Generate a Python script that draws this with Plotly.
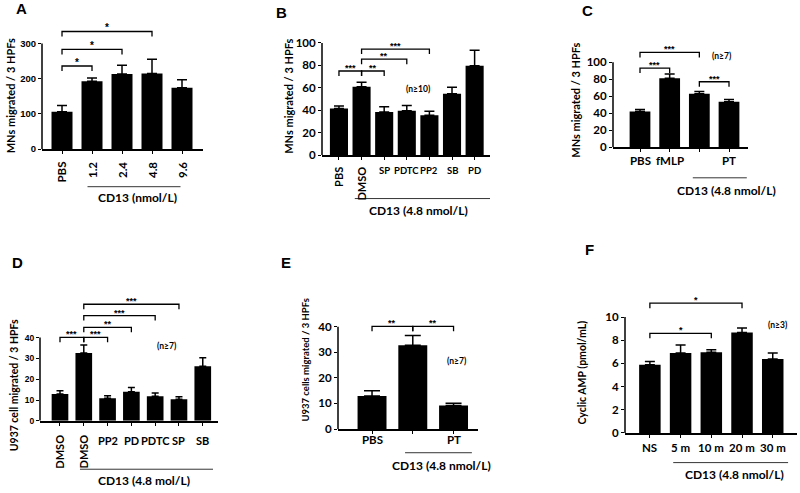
import plotly.graph_objects as go

W, H = 800, 493

# ---------------- data ----------------
a_cats = ["PBS", "1.2", "2.4", "4.8", "9.6"]
a_vals = [106, 193, 213, 215, 174]
a_sem = [18, 9, 25, 40, 23]
a_sig = [(0, 1, 236, "*"), (0, 2, 283, "*"), (0, 3, 334, "*")]

b_cats = ["PBS", "DMSO", "SP", "PDTC", "PP2", "SB", "PD"]
b_vals = [41.5, 61, 38.5, 39.6, 35.5, 54.6, 79.6]
b_sem = [2.3, 4, 4.5, 4.7, 3.5, 5.9, 13.8]
b_sig = [(0, 1, 75, "***"), (1, 2, 75, "**"), (1, 3, 85.5, "**"), (1, 4, 94.5, "***")]

c_cats = ["PBS", "fMLP", "", "PT"]
c_vals = [42, 81, 63, 53.5]
c_sem = [2.5, 5, 2.5, 2.5]
c_sig = [(0, 2, 111.5, "***"), (0, 1, 93, "***"), (2, 3, 77, "***")]

d_cats = ["DMSO", "DMSO", "PP2", "PD", "PDTC", "SP", "SB"]
d_vals = [12.9, 32.6, 10.8, 14, 11.8, 10.3, 26.2]
d_sem = [1.5, 3.8, 1.2, 2, 1.6, 1.2, 4.1]
d_sig = [(0, 1, 40.1, "***"), (1, 2, 40.1, "***"), (1, 3, 44.9, "**"),
         (1, 4, 50.5, "***"), (1, 5, 56, "***")]

e_cats = ["PBS", "", "PT"]
e_vals = [12.9, 32.7, 9.2]
e_sem = [2.1, 3.9, 0.9]
e_sig = [(0, 1, 40.1, "**"), (1, 2, 40.1, "**")]

f_cats = ["NS", "5 m", "10 m", "20 m", "30 m"]
f_vals = [5.88, 6.9, 6.96, 8.66, 6.39]
f_sem = [0.28, 0.69, 0.23, 0.4, 0.51]
f_sig = [(0, 2, 8.6, "*"), (0, 3, 11.2, "*")]

MAIN = "Lato"


def fnt(size, family=MAIN):
    return dict(family=family, size=size, color="black", weight="bold")


SMALL_A = fnt(9.5, "Liberation Sans")
SMALL_D = fnt(8.5, "Liberation Sans")
TICK = fnt(11.5)

panels = [
    dict(letter="A", cats=a_cats, vals=a_vals, sem=a_sem, sig=a_sig,
         xpx=(42, 203), xr=(-0.667, 4.7), y0=151, ytk=44, ymax=300, dtick=100, ext=20,
         tickfont=SMALL_A, bw=0.7, cap=5, rot=[0, 1, 2, 3, 4], rot_top=162, hz_y=None,
         labsize=11.5, under=(0.85, 3.95, 189), group=("CD13 (nmol/L)", 2.5, 200),
         ytitle=("MNs migrated / 3 HPFs", 10.5, 97, 11), letter_pos=(21, 9),
         n=None, starsize=10),
    dict(letter="B", cats=b_cats, vals=b_vals, sem=b_sem, sig=b_sig,
         xpx=(322, 490), xr=(-0.75, 6.68), y0=157, ytk=43.5, ymax=100, dtick=20, ext=30,
         tickfont=TICK, bw=0.8, cap=5, rot=[0, 1], rot_top=167, hz_y=173,
         labsize=9.5, under=(0.7, 6.68, 201), group=("CD13 (4.8 nmol/L)", 3.5, 213),
         ytitle=("MNs migrated / 3 HPFs", 289, 98, 11), letter_pos=(281, 12.5),
         n=("(n≥10)", 3.5, 59), starsize=9),
    dict(letter="C", cats=c_cats, vals=c_vals, sem=c_sem, sig=c_sig,
         xpx=(613, 748), xr=(-0.91, 3.64), y0=149, ytk=63, ymax=100, dtick=20, ext=35,
         tickfont=TICK, bw=0.7, cap=5, rot=[], rot_top=None, hz_y=162,
         labsize=11.5, under=(1.78, 3.6, 180), group=("CD13 (4.8 nmol/L)", 2.9, 193),
         ytitle=("MNs migrated / 3 HPFs", 576, 102, 11), letter_pos=(587, 11),
         n=("(n≥7)", 2.76, 107), starsize=9),
    dict(letter="D", cats=d_cats, vals=d_vals, sem=d_sem, sig=d_sig,
         xpx=(40, 218), xr=(-0.84, 6.64), y0=426, ytk=341.7, ymax=40, dtick=10, ext=290,
         tickfont=SMALL_D, bw=0.7, cap=3.5, rot=[0, 1], rot_top=438, hz_y=446,
         labsize=11, under=(0.84, 6.43, 475), group=("CD13 (4.8 mol/L)", 3.53, 486),
         ytitle=("U937 cell migrated / 3 HPFs", 14, 390, 10.5), letter_pos=(17, 266),
         n=("(n≥7)", 4.5, 36), starsize=9),
    dict(letter="E", cats=e_cats, vals=e_vals, sem=e_sem, sig=e_sig,
         xpx=(338, 478), xr=(-0.835, 2.6), y0=434.3, ytk=330.7, ymax=40, dtick=10, ext=310,
         tickfont=TICK, bw=0.71, cap=8, rot=[], rot_top=None, hz_y=445,
         labsize=11.5, under=(0.81, 2.45, 458.3), group=("CD13 (4.8 nmol/L)", 1.71, 471.7),
         ytitle=("U937 cells migrated / 3 HPFs", 306, 365, 9.5), letter_pos=(286, 265.5),
         n=("(n≥7)", 2.08, 26.5), starsize=9),
    dict(letter="F", cats=f_cats, vals=f_vals, sem=f_sem, sig=f_sig,
         xpx=(625, 797), xr=(-0.81, 4.79), y0=438.3, ytk=321, ymax=10, dtick=2, ext=295,
         tickfont=TICK, bw=0.7, cap=5, rot=[], rot_top=None, hz_y=453,
         labsize=11.5, under=(0.76, 4.5, 468.3), group=("CD13 (4.8 nmol/L)", 2.74, 480),
         ytitle=("Cyclic AMP (pmol/mL)", 582, 377, 10.5), letter_pos=(589.5, 252.5),
         n=("(n≥3)", 4.16, 9.3), starsize=9),
]

GROUP_SIZE = 12


def py(p):
    return 1 - p / H


def px(p):
    return p / W


fig = go.Figure()
annotations = []
shapes = []
layout_axes = {}

for k, p in enumerate(panels, start=1):
    xid = "x" if k == 1 else f"x{k}"
    yid = "y" if k == 1 else f"y{k}"
    xkey = "xaxis" if k == 1 else f"xaxis{k}"
    ykey = "yaxis" if k == 1 else f"yaxis{k}"
    n = len(p["cats"])
    idx = list(range(n))
    ppu = (p["y0"] - p["ytk"]) / p["ymax"]
    ytop = (p["y0"] - p["ext"]) / ppu

    fig.add_trace(go.Bar(
        x=idx, y=p["vals"], width=p["bw"], marker=dict(color="black", line=dict(width=0)),
        error_y=dict(type="data", array=p["sem"], arrayminus=[0] * n, symmetric=False,
                     color="black", thickness=1.5, width=p["cap"]),
        xaxis=xid, yaxis=yid, showlegend=False, hoverinfo="skip"))

    layout_axes[xkey] = dict(domain=[px(p["xpx"][0]), px(p["xpx"][1])], range=list(p["xr"]),
                             anchor=yid, showline=True, linecolor="black", linewidth=1.5,
                             ticks="outside", ticklen=3, tickwidth=1, tickcolor="black",
                             tickvals=idx, showticklabels=False, showgrid=False, zeroline=False,
                             fixedrange=True)
    layout_axes[ykey] = dict(domain=[py(p["y0"]), py(p["ext"])], range=[0, ytop], anchor=xid,
                             showline=False, ticks="outside", ticklen=3, tickwidth=1.2,
                             tickcolor="black",
                             tickvals=list(range(0, p["ymax"] + 1, p["dtick"])),
                             tickfont=p["tickfont"], showgrid=False, zeroline=False,
                             fixedrange=True)
    # y-axis line, only up to the top tick
    shapes.append(dict(type="line", xref=f"{xid} domain", yref=yid, x0=0, x1=0,
                       y0=0, y1=p["ymax"], line=dict(color="black", width=1.5)))

    # significance brackets
    for (i, j, yb, s) in p["sig"]:
        d = 5 / ppu
        shapes.append(dict(type="path", xref=xid, yref=yid,
                           path=f"M {i},{yb - d} L {i},{yb} L {j},{yb} L {j},{yb - d}",
                           line=dict(color="black", width=1.3)))
        annotations.append(dict(x=(i + j) / 2, y=yb, xref=xid, yref=yid, text=s,
                                showarrow=False, yanchor="bottom", yshift=-4,
                                font=fnt(p["starsize"], "Liberation Sans")))

    # category labels
    for i, c in enumerate(p["cats"]):
        if not c:
            continue
        if i in p["rot"]:
            annotations.append(dict(x=i, y=py(p["rot_top"]), xref=xid, yref="paper", text=c,
                                    textangle=-90, showarrow=False, yanchor="top",
                                    xanchor="center", font=fnt(11 if k != 1 else p["labsize"])))
        else:
            annotations.append(dict(x=i, y=py(p["hz_y"]), xref=xid, yref="paper", text=c,
                                    showarrow=False, yanchor="middle", xanchor="center",
                                    font=fnt(p["labsize"])))

    # group underline and label
    u0, u1, uy = p["under"]
    shapes.append(dict(type="line", xref=xid, yref="paper", x0=u0, x1=u1, y0=py(uy), y1=py(uy),
                       line=dict(color="black", width=0.8)))
    gt, gx, gy = p["group"]
    annotations.append(dict(x=gx, y=py(gy), xref=xid, yref="paper", text=gt, showarrow=False,
                            yanchor="middle", xanchor="center", font=fnt(GROUP_SIZE)))

    # y title
    tt, tx, ty, ts = p["ytitle"]
    annotations.append(dict(x=px(tx), y=py(ty), xref="paper", yref="paper", text=tt,
                            textangle=-90, showarrow=False, xanchor="center", yanchor="middle",
                            font=fnt(ts)))

    # panel letter
    lx, ly = p["letter_pos"]
    annotations.append(dict(x=px(lx), y=py(ly), xref="paper", yref="paper", text=p["letter"],
                            showarrow=False, xanchor="center", yanchor="middle",
                            font=fnt(15, "Liberation Sans")))

    # n annotation
    if p["n"]:
        nt, nx, ny = p["n"]
        annotations.append(dict(x=nx, y=ny, xref=xid, yref=yid, text=nt, showarrow=False,
                                xanchor="center", yanchor="middle", font=fnt(8.5)))

fig.update_layout(width=W, height=H, margin=dict(l=0, r=0, t=0, b=0),
                  paper_bgcolor="white", plot_bgcolor="white", showlegend=False,
                  font=dict(family=MAIN, color="black", weight="bold"),
                  annotations=annotations, shapes=shapes, **layout_axes)

fig.write_html("out.html", config={"displayModeBar": False},
               post_script="document.body.style.margin='0';"
                           "document.documentElement.style.overflow='hidden';")
